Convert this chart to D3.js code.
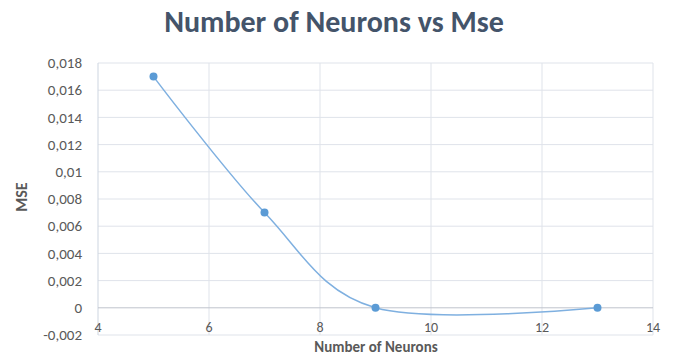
<!DOCTYPE html>
<html>
<head>
<meta charset="utf-8">
<script src="https://cdn.jsdelivr.net/npm/d3@7"></script>
<style>
  html, body { margin: 0; padding: 0; background: #fff; }
  svg { display: block; font-family: Calibri, Carlito, "Open Sans", "Liberation Sans", sans-serif; }
</style>
</head>
<body>
<svg id="chart" width="678" height="356"></svg>
<script>
// Neuron count tested and the resulting mean squared error
const neurons = [5, 7, 9, 13];
const mse = [0.017, 0.007, 0, 0];

const xTicks = [4, 6, 8, 10, 12, 14];
const yTicks = [-0.002, 0, 0.002, 0.004, 0.006, 0.008, 0.01, 0.012, 0.014, 0.016, 0.018];

const title = "Number of Neurons vs Mse";
const xTitle = "Number of Neurons";
const yTitle = "MSE";

const svg = d3.select("#chart");
const W = 678, H = 356;
const m = { left: 98, right: 25, top: 63, bottom: 21 };

const x = d3.scaleLinear().domain([4, 14]).range([m.left, W - m.right]);
const y = d3.scaleLinear().domain([-0.002, 0.018]).range([H - m.bottom, m.top]);

// comma decimal separator
const fmt = v => {
  const s = (+v.toFixed(3)).toString();
  return s.replace(".", ",");
};

const labelColor = "#595959";
const gridColor = "#dfe3ea";

// horizontal gridlines
svg.append("g")
  .selectAll("line")
  .data(yTicks.filter(d => d !== 0))
  .join("line")
  .attr("x1", x(4)).attr("x2", x(14))
  .attr("y1", d => y(d)).attr("y2", d => y(d))
  .attr("stroke", gridColor).attr("stroke-width", 1);

// vertical gridlines
svg.append("g")
  .selectAll("line")
  .data(xTicks.filter(d => d !== 4))
  .join("line")
  .attr("x1", d => x(d)).attr("x2", d => x(d))
  .attr("y1", y(-0.002)).attr("y2", y(0.018))
  .attr("stroke", gridColor).attr("stroke-width", 1);

// vertical axis line at x = 4
svg.append("line")
  .attr("x1", x(4)).attr("x2", x(4))
  .attr("y1", y(-0.002)).attr("y2", y(0.018))
  .attr("stroke", "#cdd5e0").attr("stroke-width", 1);

// horizontal axis line at y = 0
svg.append("line")
  .attr("x1", x(4)).attr("x2", x(14))
  .attr("y1", y(0)).attr("y2", y(0))
  .attr("stroke", "#bfc4cc").attr("stroke-width", 1);

// y tick labels
svg.append("g")
  .selectAll("text")
  .data(yTicks)
  .join("text")
  .attr("x", 82)
  .attr("y", d => y(d))
  .attr("dy", "0.35em")
  .attr("text-anchor", "end")
  .attr("font-size", 15)
  .attr("fill", labelColor)
  .text(fmt);

// x tick labels, hung below the zero axis
svg.append("g")
  .selectAll("text")
  .data(xTicks)
  .join("text")
  .attr("x", d => x(d))
  .attr("y", y(0) + 24)
  .attr("text-anchor", "middle")
  .attr("font-size", 14)
  .attr("fill", labelColor)
  .text(d => d);

// titles
svg.append("text")
  .attr("x", 334).attr("y", 32)
  .attr("text-anchor", "middle")
  .attr("font-size", 30)
  .attr("font-weight", "bold")
  .attr("fill", "#44546a")
  .text(title);

svg.append("text")
  .attr("x", 376).attr("y", 351.5)
  .attr("text-anchor", "middle")
  .attr("font-size", 15)
  .attr("font-weight", "bold")
  .attr("fill", labelColor)
  .text(xTitle);

svg.append("text")
  .attr("transform", `translate(21,${(y(-0.002) + y(0.018)) / 2 - 2}) rotate(-90)`)
  .attr("dy", "0.35em")
  .attr("text-anchor", "middle")
  .attr("font-size", 16)
  .attr("font-weight", "bold")
  .attr("fill", labelColor)
  .text(yTitle);

// smoothed series line
const pts = neurons.map((n, i) => [n, mse[i]]);
const line = d3.line()
  .x(d => x(d[0]))
  .y(d => y(d[1]))
  .curve(d3.curveCatmullRom.alpha(0));

svg.append("path")
  .datum(pts)
  .attr("d", line)
  .attr("fill", "none")
  .attr("stroke", "#7fb0e0")
  .attr("stroke-width", 1.5);

// markers
svg.append("g")
  .selectAll("circle")
  .data(pts)
  .join("circle")
  .attr("cx", d => x(d[0]))
  .attr("cy", d => y(d[1]))
  .attr("r", 4)
  .attr("fill", "#5b9bd5");
</script>
</body>
</html>
